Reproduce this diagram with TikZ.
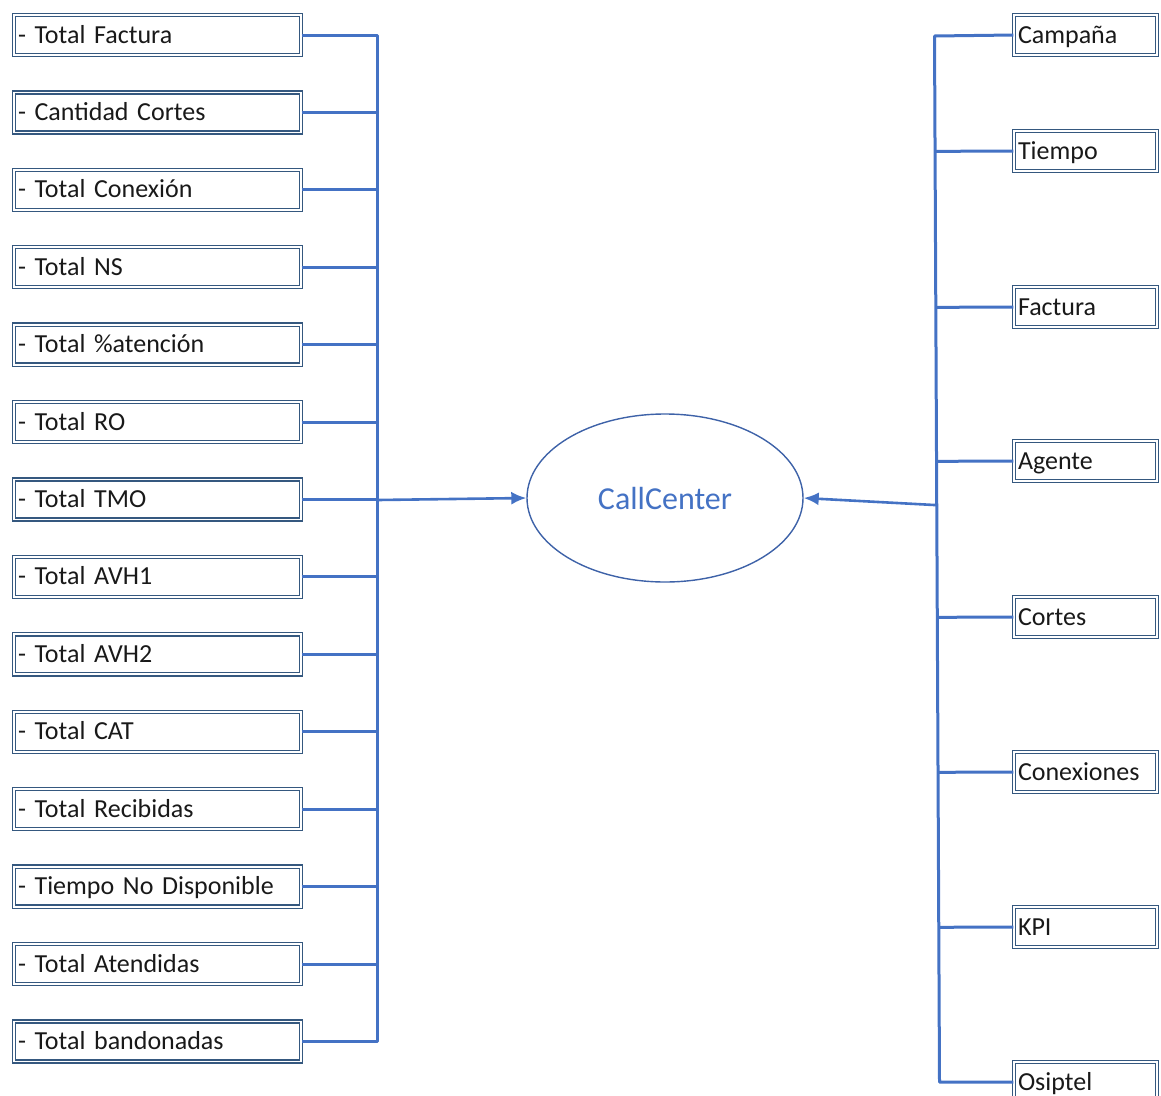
\documentclass[tikz,border=0pt]{standalone}
\usepackage{fontspec}
\setmainfont{Carlito}
\usetikzlibrary{shapes.geometric,arrows.meta,calc}
\definecolor{linkblue}{HTML}{4472C4}
\definecolor{boxedge}{HTML}{35587F}
\definecolor{ovaledge}{HTML}{3E62A8}
\begin{document}
\begin{tikzpicture}[x=1pt,y=-1pt,
  field/.style={draw=boxedge, double=white, double distance=1.8pt, line width=1.3pt,
    minimum height=40pt, inner ysep=0pt, inner xsep=4pt, align=left,
    text height=18pt, text depth=2pt,
    font=\fontsize{26}{30}\selectfont, text=black!90},
  leftbox/.style={field, text width=279pt},
  rightbox/.style={field, text width=135pt},
  link/.style={draw=linkblue, line width=3pt, line join=round},
  flow/.style={link, line width=2.6pt, -{Latex[length=15pt,width=13pt]}},
  hub/.style={ellipse, draw=ovaledge, line width=1.4pt, minimum width=276pt,
    minimum height=168pt, inner sep=0pt, text=linkblue,
    font=\fontsize{32}{38}\selectfont}]
\useasboundingbox (0,0) rectangle (1161,1095);
\clip (0,0) rectangle (1161,1095);

% measures feeding the fact table
\foreach \name [count=\i] in {- Total Factura, - Cantidad Cortes, - Total Conexión,
  - Total NS, - Total \%atención, - Total RO, - Total TMO, - Total AVH1,
  - Total AVH2, - Total CAT, - Total Recibidas, - Tiempo No Disponible,
  - Total Atendidas, - Total bandonadas}
  \node[leftbox] (L\i) at (157.5, {35+(\i-1)*77.42}) {\name};

% dimensions
\node[rightbox] (R1) at (1085.5, 35)   {Campaña};
\node[rightbox] (R2) at (1085.5, 151)  {Tiempo};
\node[rightbox] (R3) at (1085.5, 307)  {Factura};
\node[rightbox] (R4) at (1085.5, 461)  {Agente};
\node[rightbox] (R5) at (1085.5, 617)  {Cortes};
\node[rightbox] (R6) at (1085.5, 772)  {Conexiones};
\node[rightbox] (R7) at (1085.5, 927)  {KPI};
\node[rightbox] (R8) at (1085.5, 1082) {Osiptel};

% central fact
\node[hub] (cc) at (665, 498) {CallCenter};

% left collector bus
\coordinate (busL) at (377.7, 0);
\draw[link] (L1.east) -- (busL |- L1.east) -- (busL |- L14.east) -- (L14.east);
\foreach \i in {2,...,13}
  \draw[link] (L\i.east) -- (busL |- L\i.east);
\draw[flow] (377.7, 500) -- (cc.west);

% right collector bus (slightly slanted)
\coordinate (rT) at (934.5, 36);
\coordinate (rB) at (939.5, 1082);
\draw[link] (R1.west) -- (rT) -- (rB) -- (R8.west);
\foreach \i in {2,...,7}
  \draw[link] (R\i.west) -- ($(rT)!(R\i.west)!(rB)$);
\coordinate (rA) at ($(rT)!0.4485!(rB)$);
\draw[flow] (rA) -- (cc.east);
\end{tikzpicture}
\end{document}
